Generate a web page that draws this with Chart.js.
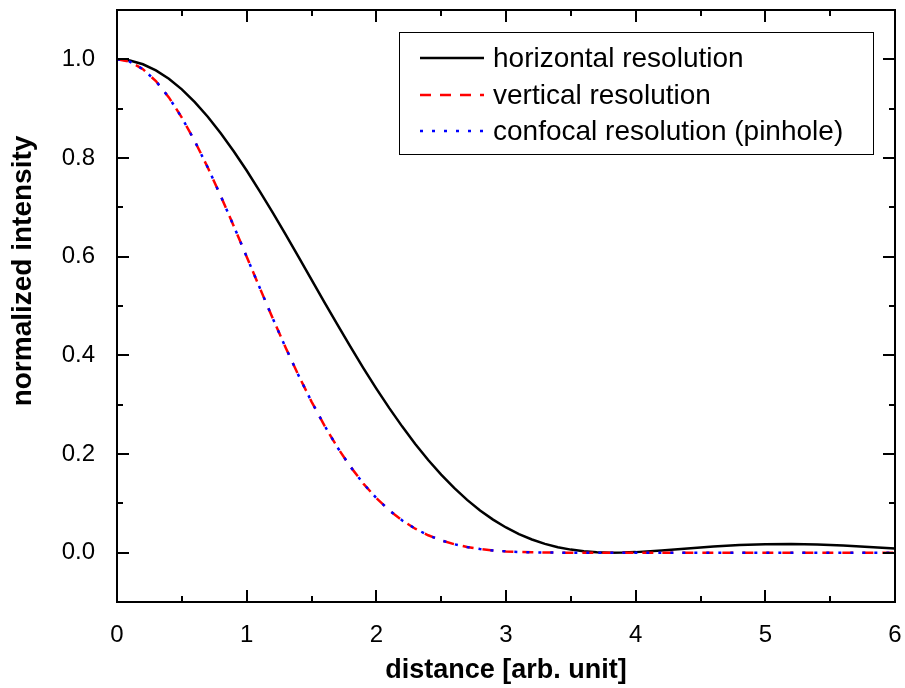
<!DOCTYPE html>
<html lang="en">
<head>
<meta charset="UTF-8">
<title>Resolution profiles</title>
<script src="https://cdn.jsdelivr.net/npm/chart.js"></script>
<style>
    html, body { margin: 0; padding: 0; background: #fff; }
    canvas { display: block; }
</style>
</head>
<body>
<canvas id="plot" width="905" height="688"></canvas>
<script>
// axis ticks
const xTicks = [0, 1, 2, 3, 4, 5, 6];
const xMinor = [0.5, 1.5, 2.5, 3.5, 4.5, 5.5];
const yTicks = [0.0, 0.2, 0.4, 0.6, 0.8, 1.0];
const yMinor = [0.1, 0.3, 0.5, 0.7, 0.9];

// horizontal resolution (solid black)
const distH = [0, 0.1, 0.2, 0.3, 0.4, 0.5, 0.6, 0.7, 0.8, 0.9,
    1.0, 1.1, 1.2, 1.3, 1.4, 1.5, 1.6, 1.7, 1.8, 1.9,
    2.0, 2.1, 2.2, 2.3, 2.4, 2.5, 2.6, 2.7, 2.8, 2.9,
    3.0, 3.1, 3.2, 3.3, 3.4, 3.5, 3.6, 3.7, 3.8, 3.9,
    4.0, 4.2, 4.4, 4.6, 4.8, 5.0, 5.2, 5.4, 5.6, 5.8, 6.0];
const horizontal = [1.0, 0.9975, 0.9900, 0.9777, 0.9607, 0.9391, 0.9133, 0.8836, 0.8503, 0.8138,
    0.7746, 0.7330, 0.6897, 0.6450, 0.5994, 0.5534, 0.5075, 0.4620, 0.4175, 0.3742,
    0.3326, 0.2929, 0.2555, 0.2204, 0.1879, 0.1581, 0.1312, 0.1070, 0.0856, 0.0670,
    0.0511, 0.0377, 0.0267, 0.0179, 0.0111, 0.0062, 0.0028, 0.0009, 0.0000, 0.0002,
    0.0011, 0.0044, 0.0085, 0.0124, 0.0155, 0.0172, 0.0174, 0.0164, 0.0143, 0.0115, 0.0085];

// vertical (red dashed) and confocal (blue dotted)
const distV = [0, 0.1, 0.2, 0.3, 0.4, 0.5, 0.6, 0.7, 0.8, 0.9,
    1.0, 1.1, 1.2, 1.3, 1.4, 1.5, 1.6, 1.7, 1.8, 1.9,
    2.0, 2.1, 2.2, 2.3, 2.4, 2.5, 2.6, 2.7, 2.8, 2.9,
    3.0, 3.1, 3.2, 3.3, 3.4, 3.6, 4.0, 4.5, 5.0, 5.5, 6.0];
const vertical = [1.0, 0.9950, 0.9801, 0.9559, 0.9229, 0.8819, 0.8341, 0.7807, 0.7230, 0.6623,
    0.6000, 0.5373, 0.4757, 0.4160, 0.3593, 0.3063, 0.2576, 0.2134, 0.1743, 0.1400,
    0.1106, 0.0858, 0.0653, 0.0486, 0.0353, 0.0250, 0.0172, 0.0114, 0.0073, 0.0045,
    0.0026, 0.0014, 0.0007, 0.0003, 0.0001, 0, 0, 0, 0, 0, 0];
const confocal = [1.0, 0.9950, 0.9801, 0.9559, 0.9229, 0.8819, 0.8341, 0.7807, 0.7230, 0.6623,
    0.6000, 0.5373, 0.4757, 0.4160, 0.3593, 0.3063, 0.2576, 0.2134, 0.1743, 0.1400,
    0.1106, 0.0858, 0.0653, 0.0486, 0.0353, 0.0250, 0.0172, 0.0114, 0.0073, 0.0045,
    0.0026, 0.0014, 0.0007, 0.0003, 0.0001, 0, 0, 0, 0, 0, 0];

const FONT = "'Liberation Sans', Arial, sans-serif";
const pairs = (xs, ys) => xs.map((x, i) => ({ x: x, y: ys[i] }));

// box around the plot + inward ticks on all four sides
const framePlugin = {
    id: 'frame',
    afterDatasetsDraw(chart) {
        const { ctx, chartArea: a, scales: { x, y } } = chart;
        ctx.save();
        ctx.strokeStyle = '#000';
        ctx.lineWidth = 2;
        ctx.beginPath();
        const vTicks = (vals, len) => vals.forEach(v => {
            const px = Math.round(x.getPixelForValue(v));
            ctx.moveTo(px, a.bottom); ctx.lineTo(px, a.bottom - len);
            ctx.moveTo(px, a.top); ctx.lineTo(px, a.top + len);
        });
        const hTicks = (vals, len) => vals.forEach(v => {
            const py = Math.round(y.getPixelForValue(v));
            ctx.moveTo(a.left, py); ctx.lineTo(a.left + len, py);
            ctx.moveTo(a.right, py); ctx.lineTo(a.right - len, py);
        });
        vTicks(xTicks, 12); vTicks(xMinor, 6);
        hTicks(yTicks, 12); hTicks(yMinor, 6);
        ctx.stroke();
        ctx.strokeRect(a.left, a.top, a.right - a.left, a.bottom - a.top);
        ctx.restore();
    }
};

// legend box in the upper right corner
const legendPlugin = {
    id: 'boxLegend',
    afterDraw(chart) {
        const { ctx, chartArea: a } = chart;
        const right = a.right - 22, top = a.top + 22;
        const w = 474, h = 122;
        const left = right - w;
        ctx.save();
        ctx.strokeStyle = '#000';
        ctx.lineWidth = 1;
        ctx.strokeRect(left + 0.5, top + 0.5, w, h);
        ctx.font = '28px ' + FONT;
        ctx.textBaseline = 'middle';
        ctx.fillStyle = '#000';
        chart.data.datasets.forEach((ds, i) => {
            const cy = Math.round(top + 26 + i * 36.5);
            ctx.strokeStyle = ds.borderColor;
            ctx.lineWidth = ds.borderWidth;
            ctx.setLineDash(ds.borderDash || []);
            ctx.beginPath();
            ctx.moveTo(left + 21, cy);
            ctx.lineTo(left + 85, cy);
            ctx.stroke();
            ctx.setLineDash([]);
            ctx.fillText(ds.label, left + 94, cy + 1);
        });
        ctx.restore();
    }
};

new Chart(document.getElementById('plot'), {
    type: 'line',
    data: {
        datasets: [
            { label: 'horizontal resolution', data: pairs(distH, horizontal),
              borderColor: '#000000', borderWidth: 2.5, order: 3 },
            { label: 'vertical resolution', data: pairs(distV, vertical),
              borderColor: '#ff0000', borderWidth: 2.5, borderDash: [11, 9], order: 2 },
            { label: 'confocal resolution (pinhole)', data: pairs(distV, confocal),
              borderColor: '#0000ff', borderWidth: 2.5, borderDash: [3, 9], order: 1 }
        ]
    },
    options: {
        responsive: false,
        devicePixelRatio: 1,
        animation: false,
        events: [],
        layout: { padding: { left: 0, top: 10, right: 10, bottom: 0 } },
        elements: { point: { radius: 0 }, line: { tension: 0, fill: false } },
        plugins: { legend: { display: false }, tooltip: { enabled: false } },
        scales: {
            x: {
                type: 'linear', min: 0, max: 6,
                afterBuildTicks: s => { s.ticks = xTicks.map(v => ({ value: v })); },
                afterFit: s => { s.height = 86; s.paddingLeft = 0; s.paddingRight = 0; },
                grid: { display: false },
                border: { display: false },
                ticks: { color: '#000', font: { family: FONT, size: 24 }, padding: 11,
                         maxRotation: 0, autoSkip: false, callback: v => String(v) },
                title: { display: true, text: 'distance [arb. unit]', color: '#000',
                         font: { family: FONT, size: 27, weight: 'bold' },
                         padding: { top: 0, bottom: 1 } }
            },
            y: {
                type: 'linear', min: -0.1, max: 1.1,
                afterBuildTicks: s => { s.ticks = yTicks.map(v => ({ value: v })); },
                afterFit: s => { s.width = 117; s.paddingTop = 0; s.paddingBottom = 0; },
                grid: { display: false },
                border: { display: false },
                ticks: { color: '#000', font: { family: FONT, size: 24 }, padding: 14,
                         callback: v => v.toFixed(1) },
                title: { display: true, text: '         normalized intensity', color: '#000',
                         font: { family: FONT, size: 28, weight: 'bold' },
                         padding: { top: 6, bottom: 0 } }
            }
        }
    },
    plugins: [framePlugin, legendPlugin]
});
</script>
</body>
</html>
